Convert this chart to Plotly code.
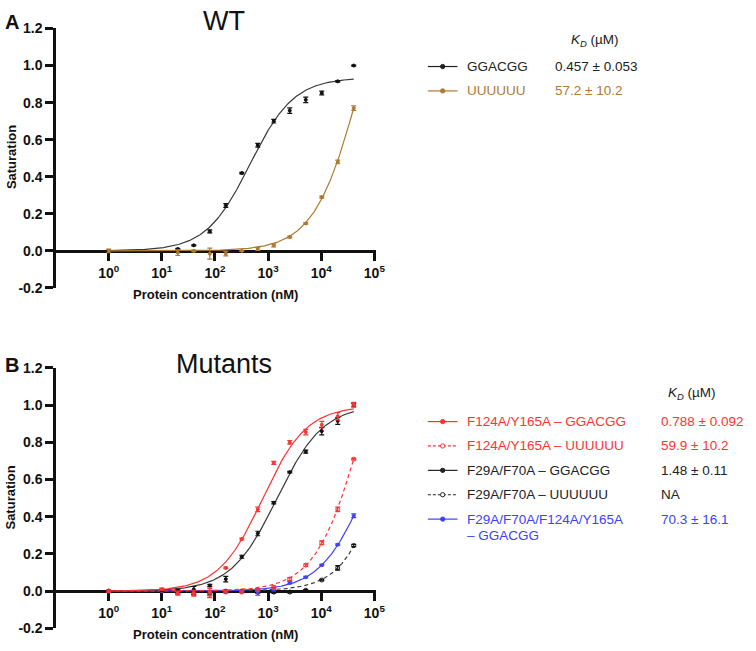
import numpy as np
import plotly.graph_objects as go

W, H = 756, 651

# ---------------- data ----------------
conc_A = [1, 20, 40, 80, 160, 320, 640, 1280, 2560, 5120, 10240, 20480, 40960]
wt_ggacgg = [0.0, 0.01, 0.03, 0.105, 0.245, 0.42, 0.57, 0.70, 0.757, 0.815, 0.852, 0.915, 1.0]
wt_ggacgg_err = [0.004, 0.003, 0.003, 0.008, 0.010, 0.004, 0.010, 0.010, 0.015, 0.015, 0.010, 0.004, 0.003]
wt_uuuuuu = [0.0, -0.01, 0.0, -0.015, -0.015, 0.0, 0.01, 0.03, 0.075, 0.148, 0.29, 0.48, 0.77]
wt_uuuuuu_err = [0.010, 0.015, 0.004, 0.030, 0.012, 0.003, 0.008, 0.008, 0.005, 0.004, 0.005, 0.010, 0.012]

conc_B = [1, 10, 20, 40, 80, 160, 320, 640, 1280, 2560, 5120, 10240, 20480, 40960]
m1_gg = [0.0, 0.01, -0.01, -0.01, -0.005, 0.125, 0.28, 0.44, 0.69, 0.80, 0.855, 0.895, 0.94, 1.005]
m1_gg_err = [0.005, 0.006, 0.010, 0.015, 0.020, 0.004, 0.005, 0.012, 0.008, 0.010, 0.015, 0.018, 0.020, 0.010]
m1_uu = [0.0, 0.005, -0.01, -0.01, -0.015, -0.005, -0.005, 0.005, 0.02, 0.065, 0.14, 0.26, 0.44, 0.71]
m1_uu_err = [0.004, 0.005, 0.010, 0.015, 0.020, 0.006, 0.005, 0.006, 0.008, 0.008, 0.006, 0.010, 0.012, 0.004]
m2_gg = [0.0, 0.005, 0.0, 0.01, 0.03, 0.065, 0.185, 0.31, 0.475, 0.64, 0.75, 0.86, 0.915, 1.0]
m2_gg_err = [0.004, 0.005, 0.008, 0.015, 0.006, 0.015, 0.008, 0.012, 0.006, 0.004, 0.008, 0.020, 0.018, 0.010]
m2_uu = [0.0, 0.0, -0.005, -0.01, -0.01, 0.0, 0.0, 0.0, -0.005, -0.005, 0.005, 0.06, 0.125, 0.245]
m2_uu_err = [0.003, 0.004, 0.006, 0.008, 0.010, 0.005, 0.004, 0.012, 0.006, 0.004, 0.003, 0.004, 0.012, 0.006]
m3_gg = [0.0, 0.0, 0.0, 0.0, -0.005, 0.0, 0.0, -0.01, 0.01, 0.045, 0.075, 0.14, 0.25, 0.405]
m3_gg_err = [0.003, 0.003, 0.004, 0.005, 0.006, 0.004, 0.004, 0.012, 0.008, 0.006, 0.004, 0.004, 0.004, 0.010]

# fit parameters (one-site Hill model): KD (nM), Bmax, Hill slope
fit_wt_gg = (457, 0.935, 1.05)
fit_wt_uu = (57200, 1.85, 1.0)
fit_m1_gg = (788, 0.995, 1.05)
fit_m1_uu = (59900, 1.75, 1.0)
fit_m2_gg = (1480, 1.0, 1.0)
fit_m2_uu = (1.0e6, 6.2, 1.0)
fit_m3_gg = (70300, 1.1, 1.0)

legend_A_labels = ["GGACGG", "UUUUUU"]
legend_A_values = ["0.457 ± 0.053", "57.2 ± 10.2"]
legend_B_labels = ["F124A/Y165A – GGACGG", "F124A/Y165A – UUUUUU", "F29A/F70A – GGACGG",
                   "F29A/F70A – UUUUUU", "F29A/F70A/F124A/Y165A", "– GGACGG"]
legend_B_values = ["0.788 ± 0.092", "59.9 ± 10.2", "1.48 ± 0.11", "NA", "70.3 ± 16.1"]

y_ticks = [-0.2, 0.0, 0.2, 0.4, 0.6, 0.8, 1.0, 1.2]
x_ticks = [1, 10, 100, 1000, 10000, 100000]
x_ticktext = ["10<sup>%d</sup>" % i for i in range(6)]

# ---------------- styles ----------------
BLACK = "#111111"
LINEBLACK = "#3a3a3a"
TXT = "#222222"
BROWN = "#AE7A32"
RED = "#FF3333"
BLUE = "#4040FF"
FONT = "Liberation Sans, Arial, sans-serif"
DASH = "4px,3px"


def hill(x, p):
    kd, bmax, n = p
    x = np.asarray(x, dtype=float)
    return bmax * x ** n / (kd ** n + x ** n)


def px(x):
    return x / W


def py(y):
    return 1 - y / H


fig = go.Figure()


def add_series(xa, ya, conc, vals, errs, fitp, color, linecolor, dash, symbol, msize):
    xc = np.logspace(0, np.log10(conc[-1]), 300)
    fig.add_trace(go.Scatter(x=xc, y=hill(xc, fitp), mode="lines", xaxis=xa, yaxis=ya,
                             line=dict(color=linecolor, width=1.2, dash=dash),
                             showlegend=False, hoverinfo="skip"))
    fig.add_trace(go.Scatter(x=conc, y=vals, mode="markers", xaxis=xa, yaxis=ya,
                             marker=dict(color=color, size=msize, symbol=symbol,
                                         line=dict(color=color, width=1)),
                             error_y=dict(type="data", array=errs, color=color, thickness=1.2, width=2.5),
                             showlegend=False))


add_series("x", "y", conc_A, wt_ggacgg, wt_ggacgg_err, fit_wt_gg, BLACK, LINEBLACK, "solid", "circle", 3)
add_series("x", "y", conc_A, wt_uuuuuu, wt_uuuuuu_err, fit_wt_uu, BROWN, BROWN, "solid", "circle", 3)

add_series("x2", "y2", conc_B, m2_uu, m2_uu_err, fit_m2_uu, BLACK, LINEBLACK, DASH, "circle-open", 4)
add_series("x2", "y2", conc_B, m3_gg, m3_gg_err, fit_m3_gg, BLUE, BLUE, "solid", "circle", 3)
add_series("x2", "y2", conc_B, m1_uu, m1_uu_err, fit_m1_uu, RED, RED, DASH, "circle-open", 4)
add_series("x2", "y2", conc_B, m2_gg, m2_gg_err, fit_m2_gg, BLACK, LINEBLACK, "solid", "circle", 3)
add_series("x2", "y2", conc_B, m1_gg, m1_gg_err, fit_m1_gg, RED, RED, "solid", "circle", 3)

tickfont = dict(family=FONT, size=14, color=BLACK, weight="bold")
axis_common = dict(showline=True, linewidth=3, linecolor=BLACK, ticks="outside", ticklen=8,
                   tickwidth=3, tickcolor=BLACK, showgrid=False, zeroline=False,
                   layer="below traces", tickfont=tickfont)

xlog = [-0.985, 5.04]

fig.update_layout(
    width=W, height=H, margin=dict(l=0, r=0, t=0, b=0),
    paper_bgcolor="white", plot_bgcolor="rgba(0,0,0,0)", showlegend=False,
    xaxis=dict(type="log", range=xlog, domain=[px(57), px(381)], anchor="free",
               position=py(249), tickvals=x_ticks, ticktext=x_ticktext, **axis_common),
    yaxis=dict(range=[-0.2, 1.2], domain=[py(287), py(21)], anchor="x",
               tickvals=y_ticks, ticktext=["%.1f" % v for v in y_ticks], **axis_common),
    xaxis2=dict(type="log", range=xlog, domain=[px(57), px(381)], anchor="free",
                position=py(598), tickvals=x_ticks, ticktext=x_ticktext, **axis_common),
    yaxis2=dict(range=[-0.2, 1.2], domain=[py(636), py(369)], anchor="x2",
                tickvals=y_ticks, ticktext=["%.1f" % v for v in y_ticks], **axis_common),
)

ann = []
shapes = []


def text(x, y, s, size=14, color=BLACK, bold=False, xanchor="left", angle=0, yanchor="middle"):
    ann.append(dict(x=px(x), y=py(y), xref="paper", yref="paper", text=s, showarrow=False,
                    xanchor=xanchor, yanchor=yanchor, textangle=angle,
                    font=dict(family=FONT, size=size, color=color,
                              weight="bold" if bold else "normal")))


# panel labels and titles
text(3, 14, "A", size=20, bold=True)
text(3, 366, "B", size=20, bold=True)
text(227, 13, "WT", size=27, xanchor="center")
text(227, 365, "Mutants", size=27, xanchor="center")

# axis titles
text(218, 294, "Protein concentration (nM)", size=13, bold=True, xanchor="center")
text(218, 642, "Protein concentration (nM)", size=13, bold=True, xanchor="center")
text(11, 153, "Saturation", size=13, bold=True, xanchor="center", angle=-90)
text(11, 502, "Saturation", size=13, bold=True, xanchor="center", angle=-90)

LSIZE = 13.5


def legend_row(y, color, dash, filled, label, value, xval):
    shapes.append(dict(type="line", xref="paper", yref="paper", x0=px(433), x1=px(463),
                       y0=py(y), y1=py(y), line=dict(color=color, width=1.2, dash=dash)))
    r = 2.2
    shapes.append(dict(type="circle", xref="paper", yref="paper", x0=px(448 - r), x1=px(448 + r),
                       y0=py(y + r), y1=py(y - r), fillcolor=color if filled else "white",
                       line=dict(color=color, width=1)))
    text(471, y, label, color=color, size=LSIZE)
    text(xval, y, value, color=color, size=LSIZE)


# legend A
text(602, 33, "<i>K<sub>D</sub></i> (µM)", size=LSIZE, color=TXT, xanchor="center")
legend_row(60, TXT, "solid", True, legend_A_labels[0], legend_A_values[0], 560)
legend_row(85, BROWN, "solid", True, legend_A_labels[1], legend_A_values[1], 560)

# legend B
text(700, 395, "<i>K<sub>D</sub></i> (µM)", size=LSIZE, color=TXT, xanchor="center")
b_colors = [RED, RED, TXT, TXT, BLUE]
b_dash = ["solid", "3px,2px", "solid", "3px,2px", "solid"]
b_fill = [True, False, True, False, True]
b_y = [424, 449, 474, 499, 524]
for i in range(5):
    legend_row(b_y[i], b_colors[i], b_dash[i], b_fill[i], legend_B_labels[i], legend_B_values[i], 667)
text(471, 541, legend_B_labels[5], color=BLUE, size=LSIZE)

fig.update_layout(annotations=ann, shapes=shapes)
fig.write_html("out.html", config={"displayModeBar": False},
               post_script="document.body.style.margin='0';document.body.style.overflow='hidden';")
